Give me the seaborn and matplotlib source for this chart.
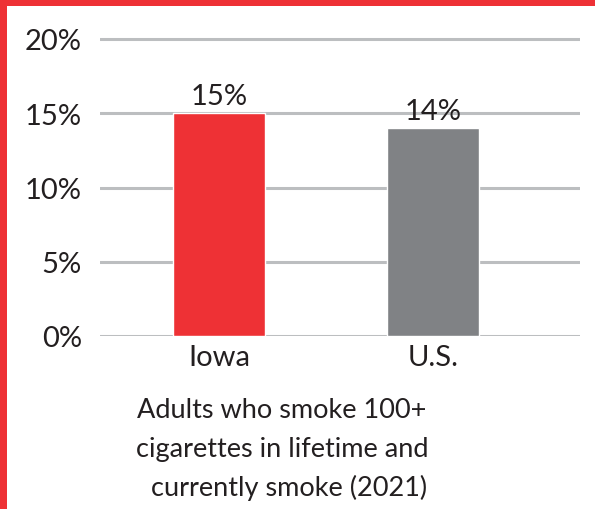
import matplotlib
matplotlib.use("Agg")
import matplotlib.pyplot as plt
import seaborn as sns
import pandas as pd
from matplotlib.patches import Rectangle

categories = ["Iowa", "U.S."]
values = [15, 14]
value_labels = ["15%", "14%"]
yticks = [0, 5, 10, 15, 20]
ytick_labels = ["0%", "5%", "10%", "15%", "20%"]
caption_lines = ["Adults who smoke 100+", "cigarettes in lifetime and", "  currently smoke (2021)"]
colors = ["#ee3135", "#808285"]

sns.set_theme(style="white")
plt.rcParams["font.family"] = ["Lato", "DejaVu Sans"]

W, H = 595, 510
fig = plt.figure(figsize=(W / 100, H / 100), dpi=100)
fig.patch.set_facecolor("white")

ax_left, ax_right = 100 / W, 580 / W
ax_bottom, ax_top = 1 - 337 / H, 1 - 30 / H
ax = fig.add_axes([ax_left, ax_bottom, ax_right - ax_left, ax_top - ax_bottom])

df = pd.DataFrame({"cat": categories, "val": values})
sns.barplot(data=df, x="cat", y="val", hue="cat", palette=colors, width=0.43,
            ax=ax, legend=False, zorder=3, saturation=1)

ax.set_xlim(-0.556, 1.687)
ax.set_ylim(0, 20 + 10 / 14.85)
ax.set_yticks(yticks)
ax.set_yticklabels(ytick_labels)
for y in yticks:
    ax.axhline(y, color="#bcbec0", lw=2.2, zorder=1)

for s in ax.spines.values():
    s.set_visible(False)
ax.tick_params(axis="y", length=0, pad=13, labelsize=21, labelcolor="#231f20")
ax.tick_params(axis="x", length=0, pad=6, labelsize=21, labelcolor="#231f20")
ax.set_xlabel("")
ax.set_ylabel("")
ax.grid(False)

for i, (v, lab) in enumerate(zip(values, value_labels)):
    ax.annotate(lab, (i, v), xytext=(0, 3), textcoords="offset points",
                ha="center", va="bottom", fontsize=21, color="#231f20", zorder=4)

for k, (line, yc) in enumerate(zip(caption_lines, [410, 450, 488])):
    fig.text(282 / W, 1 - yc / H, line, ha="center", va="center",
             fontsize=19.5, color="#231f20")

# red frame on top and left
fig.patches.append(Rectangle((0, 0), 7 / W, 1, transform=fig.transFigure,
                             facecolor="#ee3135", edgecolor="none", zorder=10))
fig.patches.append(Rectangle((0, 1 - 7 / H), 1, 7 / H, transform=fig.transFigure,
                             facecolor="#ee3135", edgecolor="none", zorder=10))

fig.savefig("out.png", dpi=100)
